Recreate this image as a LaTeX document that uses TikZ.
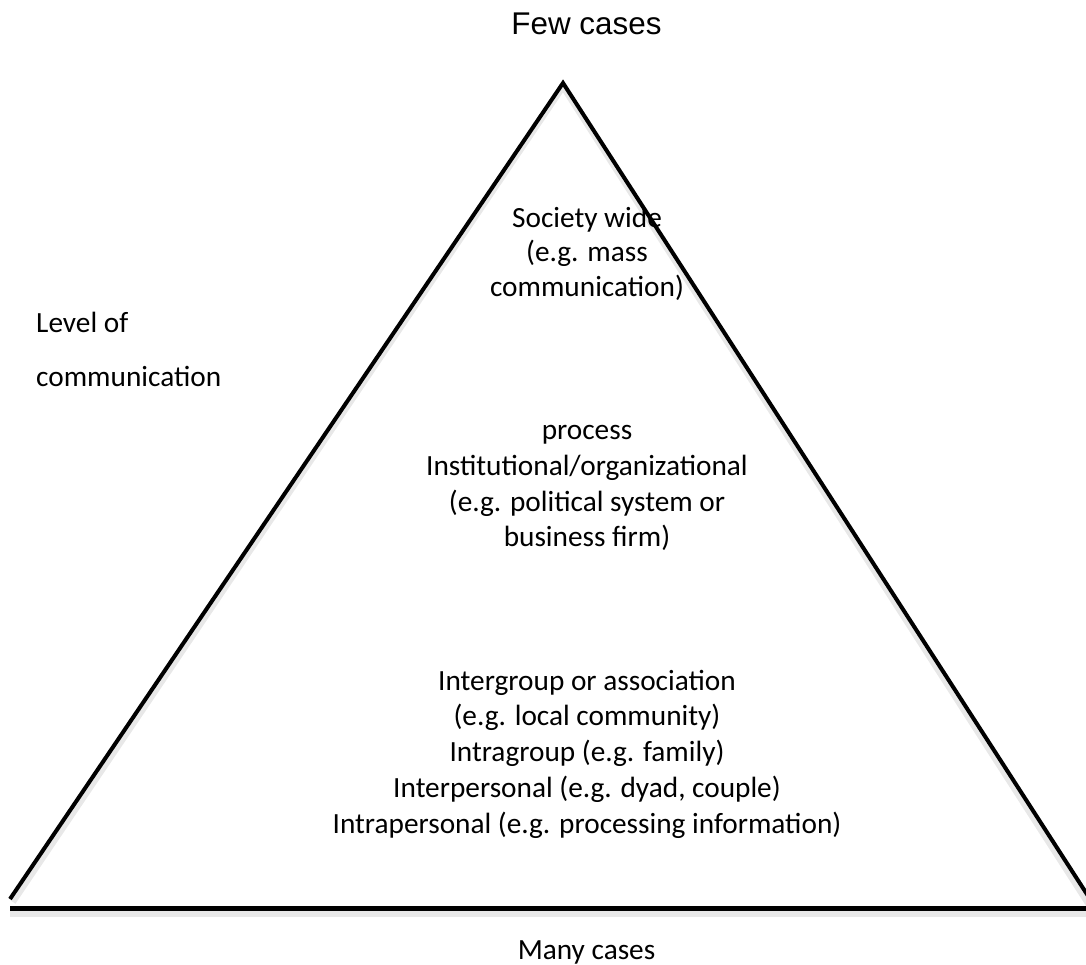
\documentclass[tikz,border=0pt]{standalone}
\usepackage{fontspec}
\setmainfont{Carlito}
\newfontfamily\arialfont{Liberation Sans}
\begin{document}
\begin{tikzpicture}[x=1pt,y=-1pt,
  lbl/.style={inner sep=0pt,anchor=base,font=\fontsize{29.3}{35.7}\selectfont},
  lblw/.style={inner sep=0pt,anchor=base west,font=\fontsize{29.3}{35.7}\selectfont},
  side/.style={line width=4pt,line cap=butt,line join=miter},
  baseline/.style={line width=5pt},
  shade/.style={line width=6pt,black!9}]
\useasboundingbox (0,0) rectangle (1086,964);
% triangle
\coordinate (apex) at (563,83);
\coordinate (bl) at (10,899);
\coordinate (br) at (1092,902);
\coordinate (apexs) at (563,87);
\coordinate (bls) at (13,902);
\coordinate (brs) at (1089,905);
\draw[shade] (bls) -- (apexs) -- (brs);
\draw[side] (bl) -- (apex) -- (br);
\coordinate (b1) at (10,908.5);
\coordinate (b2) at (1090,908.5);
\coordinate (b1s) at (10,914);
\coordinate (b2s) at (1090,914);
\draw[shade] (b1s) -- (b2s);
\draw[baseline] (b1) -- (b2);
% labels
\node[inner sep=0pt,anchor=base,font=\arialfont\fontsize{31.4}{36}\selectfont] (few) at (586.5,34) {Few cases};
\node[lbl] (s1) at (587,227) {Society wide};
\node[lbl] (s2) at (587,261.5) {(e.g. mass};
\node[lbl] (s3) at (587,296) {communication)};
\node[lblw] (lv1) at (36,332) {Level of};
\node[lblw] (lv2) at (36,386) {communication};
\node[lbl] (p1) at (587,439) {process};
\node[lbl] (p2) at (587,475) {Institutional/organizational};
\node[lbl] (p3) at (587,511) {(e.g. political system or};
\node[lbl] (p4) at (587,546) {business firm)};
\node[lbl] (g1) at (587,690) {Intergroup or association};
\node[lbl] (g2) at (587,725.5) {(e.g. local community)};
\node[lbl] (g3) at (587,761) {Intragroup (e.g. family)};
\node[lbl] (g4) at (587,797) {Interpersonal (e.g. dyad, couple)};
\node[lbl] (g5) at (587,833) {Intrapersonal (e.g. processing information)};
\node[lbl] (many) at (586.5,959) {Many cases};
\end{tikzpicture}
\end{document}
